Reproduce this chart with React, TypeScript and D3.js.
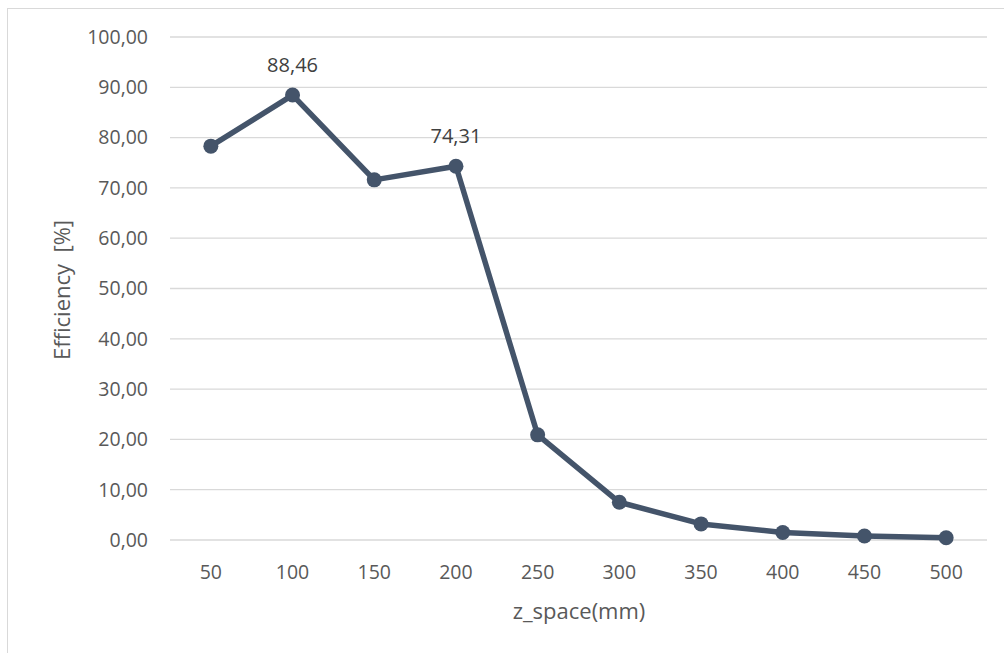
import * as d3 from "d3";

const categories = ["50", "100", "150", "200", "250", "300", "350", "400", "450", "500"];
const efficiency = [78.3, 88.46, 71.6, 74.31, 20.9, 7.5, 3.2, 1.5, 0.8, 0.45];
const labelled = ["100", "200"];
const yTicks = [0, 10, 20, 30, 40, 50, 60, 70, 80, 90, 100];

const W = 1004;
const H = 653;
const plot = { left: 170, right: 987, top: 37, bottom: 540 };
const lineColor = "#44546A";
const textColor = "#595959";
const font = "'Open Sans', 'Noto Sans', sans-serif";

const fmt = (v: number) => v.toFixed(2).replace(".", ",");

export default function App() {
  const x = d3
    .scaleBand<string>()
    .domain(categories)
    .range([plot.left, plot.right]);
  const y = d3.scaleLinear().domain([0, 100]).range([plot.bottom, plot.top]);
  const cx = (c: string) => (x(c) ?? 0) + x.bandwidth() / 2;

  const line = d3
    .line<number>()
    .x((_, i) => cx(categories[i]))
    .y((d) => y(d));

  return (
    <svg
      width={W}
      height={H}
      style={{ position: "absolute", left: 0, top: 0, background: "#fff" }}
    >
      <rect x={7.5} y={8.5} width={1010} height={660} fill="#fff" stroke="#d9d9d9" />
      {yTicks.map((t) => (
        <g key={t}>
          <line
            x1={plot.left}
            x2={plot.right}
            y1={y(t)}
            y2={y(t)}
            stroke="#d9d9d9"
            strokeWidth={1.3}
          />
          <text
            x={148}
            y={y(t)}
            dy="0.35em"
            textAnchor="end"
            fontFamily={font}
            fontSize={19.5}
            fill={textColor}
          >
            {fmt(t)}
          </text>
        </g>
      ))}
      {categories.map((c) => (
        <text
          key={c}
          x={cx(c)}
          y={572}
          dy="0.35em"
          textAnchor="middle"
          fontFamily={font}
          fontSize={19.5}
          fill={textColor}
        >
          {c}
        </text>
      ))}
      <path
        d={line(efficiency) ?? ""}
        fill="none"
        stroke={lineColor}
        strokeWidth={5.5}
        strokeLinejoin="round"
      />
      {efficiency.map((v, i) => (
        <circle key={i} cx={cx(categories[i])} cy={y(v)} r={7.5} fill={lineColor} />
      ))}
      {efficiency.map((v, i) =>
        labelled.includes(categories[i]) ? (
          <text
            key={"l" + i}
            x={cx(categories[i])}
            y={y(v) - 30}
            dy="0.35em"
            textAnchor="middle"
            fontFamily={font}
            fontSize={20}
            fill="#404040"
          >
            {fmt(v)}
          </text>
        ) : null
      )}
      <text
        x={579}
        y={611}
        dy="0.35em"
        textAnchor="middle"
        fontFamily={font}
        fontSize={22}
        fill={textColor}
      >
        z_space(mm)
      </text>
      <text
        transform={`translate(62,290) rotate(-90)`}
        dy="0.35em"
        textAnchor="middle"
        fontFamily={font}
        fontSize={22}
        fill={textColor}
        style={{ whiteSpace: "pre" }}
      >
        {"Efficiency  [%]"}
      </text>
    </svg>
  );
}
